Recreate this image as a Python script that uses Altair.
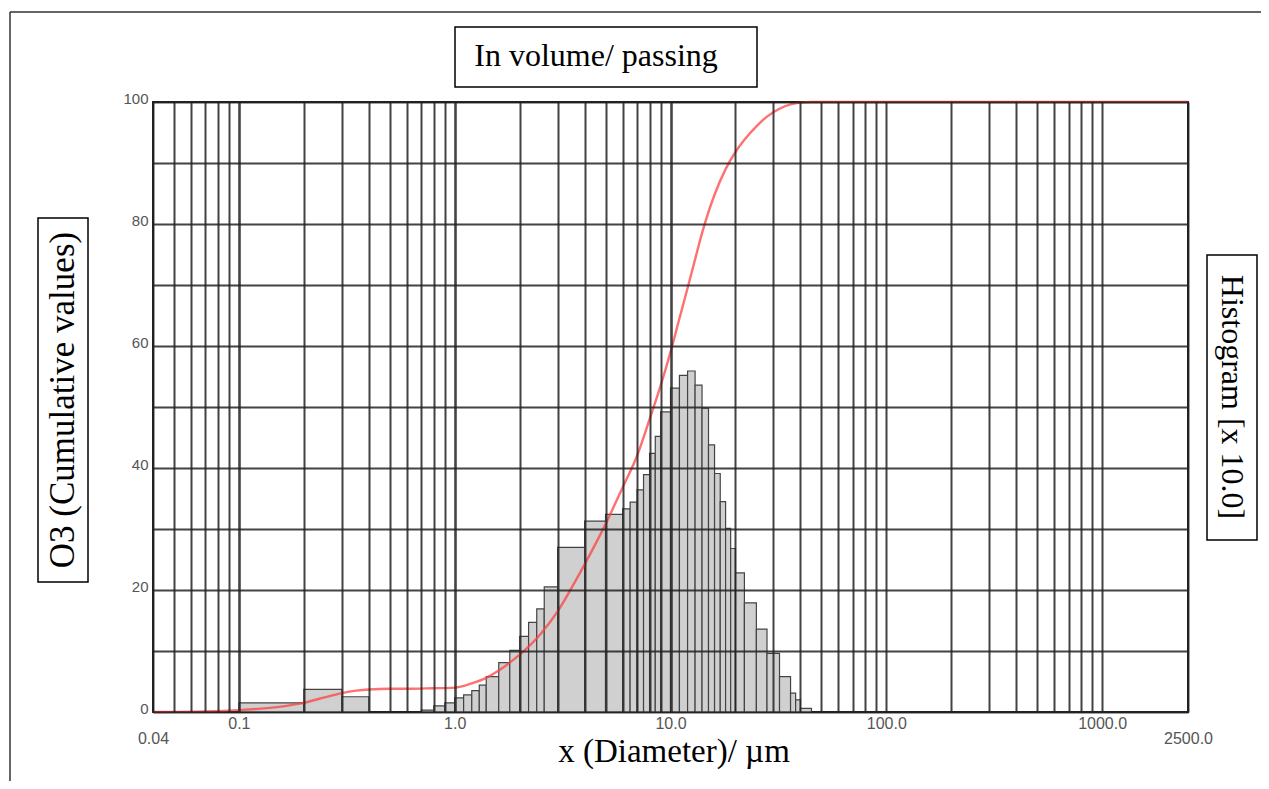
import altair as alt
import pandas as pd

# ---- histogram classes (µm) and heights (read on the 0-100 scale) ----
hist_lo = [0.1, 0.2, 0.3, 0.7, 0.8, 0.9, 1.0, 1.1, 1.2, 1.3, 1.4, 1.6, 1.8, 2.0, 2.2, 2.4, 2.6,
           3.0, 4.0, 5.0, 6.0, 6.5, 7.0, 7.5, 8.0, 8.5, 9.0, 10, 11, 12, 13, 14, 15, 16, 17, 18, 19,
           20, 22, 25, 28, 32, 36, 38, 40]
hist_hi = [0.2, 0.3, 0.4, 0.8, 0.9, 1.0, 1.1, 1.2, 1.3, 1.4, 1.6, 1.8, 2.0, 2.2, 2.4, 2.6, 3.0,
           4.0, 5.0, 6.0, 6.5, 7.0, 7.5, 8.0, 8.5, 9.0, 10, 11, 12, 13, 14, 15, 16, 17, 18, 19, 20,
           22, 25, 28, 32, 36, 38, 40, 45]
hist_h = [1.5, 3.7, 2.5, 0.3, 1.0, 1.5, 2.3, 2.8, 3.5, 4.4, 5.8, 8.1, 10.1, 12.4, 14.7, 16.9, 20.5,
          27.0, 31.3, 32.4, 33.3, 34.4, 36.4, 38.9, 42.4, 45.2, 49.2, 53.1, 55.2, 55.9, 53.6, 49.8,
          43.8, 39.1, 34.5, 30.1, 26.8, 22.8, 17.9, 13.6, 9.6, 5.8, 3.1, 2.0, 0.6]

# ---- cumulative passing curve ----
cum_d = [0.04, 0.07, 0.1, 0.15, 0.2, 0.25, 0.3, 0.35, 0.4, 0.5, 0.6, 0.8, 1.0, 1.2, 1.4, 1.6, 1.8,
         2.0, 2.5, 3.0, 3.5, 4.0, 5.0, 6.0, 7.0, 8.0, 9.0, 10, 11, 12, 13, 14, 15, 16, 18, 20, 22,
         25, 28, 32, 36, 40, 45, 100, 1000, 2500]
cum_q = [0, 0.1, 0.3, 0.8, 1.5, 2.4, 3.1, 3.5, 3.7, 3.8, 3.8, 3.9, 4.0, 4.7, 5.6, 6.8, 8.1,
         9.4, 12.8, 16.5, 20.5, 24.2, 30.8, 36.8, 42.0, 48.0, 53.5, 59.0, 64.5, 69.5, 74.2, 78.5,
         82.0, 84.8, 89.0, 91.8, 93.8, 96.0, 97.6, 98.9, 99.6, 99.9, 100, 100, 100, 100]

# ---- axis ticks / grid ----
x_grid = [0.04, 0.05, 0.06, 0.07, 0.08, 0.09,
          0.1, 0.2, 0.3, 0.4, 0.5, 0.6, 0.7, 0.8, 0.9,
          1, 2, 3, 4, 5, 6, 7, 8, 9,
          10, 20, 30, 40, 50, 60, 70, 80, 90,
          100, 200, 300, 400, 500, 600, 700, 800, 900,
          1000, 2500]
y_grid = [0, 10, 20, 30, 40, 50, 60, 70, 80, 90, 100]

title_text = "In volume/ passing"
xtitle_text = "x (Diameter)/ µm"
left_text = "O3 (Cumulative values)"
right_text = "Histogram [x 10.0]"

W, H = 1035, 610
SERIF = "Liberation Serif"
SANS = "Liberation Sans"

hist = pd.DataFrame({"lo": hist_lo, "hi": hist_hi, "h": hist_h})
cum = pd.DataFrame({"d": cum_d, "q": cum_q})

xscale = alt.Scale(type="log", domain=[0.04, 2500], nice=False)
yscale = alt.Scale(domain=[0, 100], nice=False, zero=False)

xaxis = alt.Axis(
    values=x_grid, title=None, grid=True, ticks=False, domain=False, zindex=1,
    gridColor="#222222", gridOpacity=0.85,
    gridWidth={"condition": {"test": "indexof([0.1, 1, 10], datum.value) >= 0", "value": 2.6},
               "value": 2.0},
    labelExpr=("indexof([0.04, 0.1, 1, 10, 100, 1000, 2500], datum.value) >= 0 ? "
               "(datum.value == 0.04 ? '0.04' : (datum.value == 0.1 ? '0.1' : format(datum.value, '.1f'))) : ''"),
    labelPadding={"condition": {"test": "datum.value == 0.04 || datum.value == 2500", "value": 18},
                  "value": 3},
    labelFont=SANS, labelFontSize=16, labelColor="#555", labelOverlap=False, labelBound=False,
    labelFlush=False,
)
yaxis = alt.Axis(
    values=y_grid, title=None, grid=True, ticks=False, domain=False, zindex=1,
    gridColor="#222222", gridOpacity=0.85, gridWidth=2.0,
    labelExpr="datum.value % 20 == 0 ? datum.label : ''",
    labelFont=SANS, labelFontSize=15, labelColor="#555", labelPadding=5, labelOffset=-4,
    labelOverlap=False,
)

bars = alt.Chart(hist).mark_rect(fill="#d0d0d0", stroke="#444444", strokeWidth=1.2).encode(
    x=alt.X("lo:Q", scale=xscale, axis=xaxis),
    x2="hi:Q",
    y=alt.Y("h:Q", scale=yscale, axis=yaxis),
    y2=alt.datum(0),
)

curve = alt.Chart(cum).mark_line(color="#ff4040", strokeWidth=2.4, opacity=0.75,
                                 interpolate="monotone").encode(
    x=alt.X("d:Q", scale=xscale, axis=xaxis),
    y=alt.Y("q:Q", scale=yscale, axis=yaxis),
)

one = pd.DataFrame({"k": [0]})


def box(x1, x2, y1, y2):
    return alt.Chart(one).mark_rect(fill="white", stroke="black", strokeWidth=1.5).encode(
        x=alt.value(x1), x2=alt.value(x2), y=alt.value(y1), y2=alt.value(y2))


def label(txt, x, y, size, angle=0):
    return alt.Chart(one).mark_text(text=txt, font=SERIF, fontSize=size, color="black",
                                    angle=angle, align="center", baseline="middle").encode(
        x=alt.value(x), y=alt.value(y))


frame_top = alt.Chart(one).mark_rule(color="#333", strokeWidth=1.5).encode(
    x=alt.value(-143), x2=alt.value(1200), y=alt.value(-90))
frame_left = alt.Chart(one).mark_rule(color="#333", strokeWidth=1.5).encode(
    x=alt.value(-143), y=alt.value(-90), y2=alt.value(700))

chart = alt.layer(
    bars, curve,
    frame_top, frame_left,
    box(302, 604, -75, -15), label(title_text, 443, -46, 32),
    box(-115, -65, 116, 480), label(left_text, -90, 298, 35, angle=270),
    box(1054, 1104, 153, 438), label(right_text, 1079, 295, 32, angle=90),
    label(xtitle_text, 521, 650, 33),
).properties(
    width=W, height=H,
    padding={"left": 145, "top": 94, "right": 73, "bottom": 69},
    autosize=alt.AutoSizeParams(type="none"),
    background="white",
).configure_view(stroke="#222222", strokeWidth=2)

chart.save("out.html", embed_options={"renderer": "svg", "actions": False})
